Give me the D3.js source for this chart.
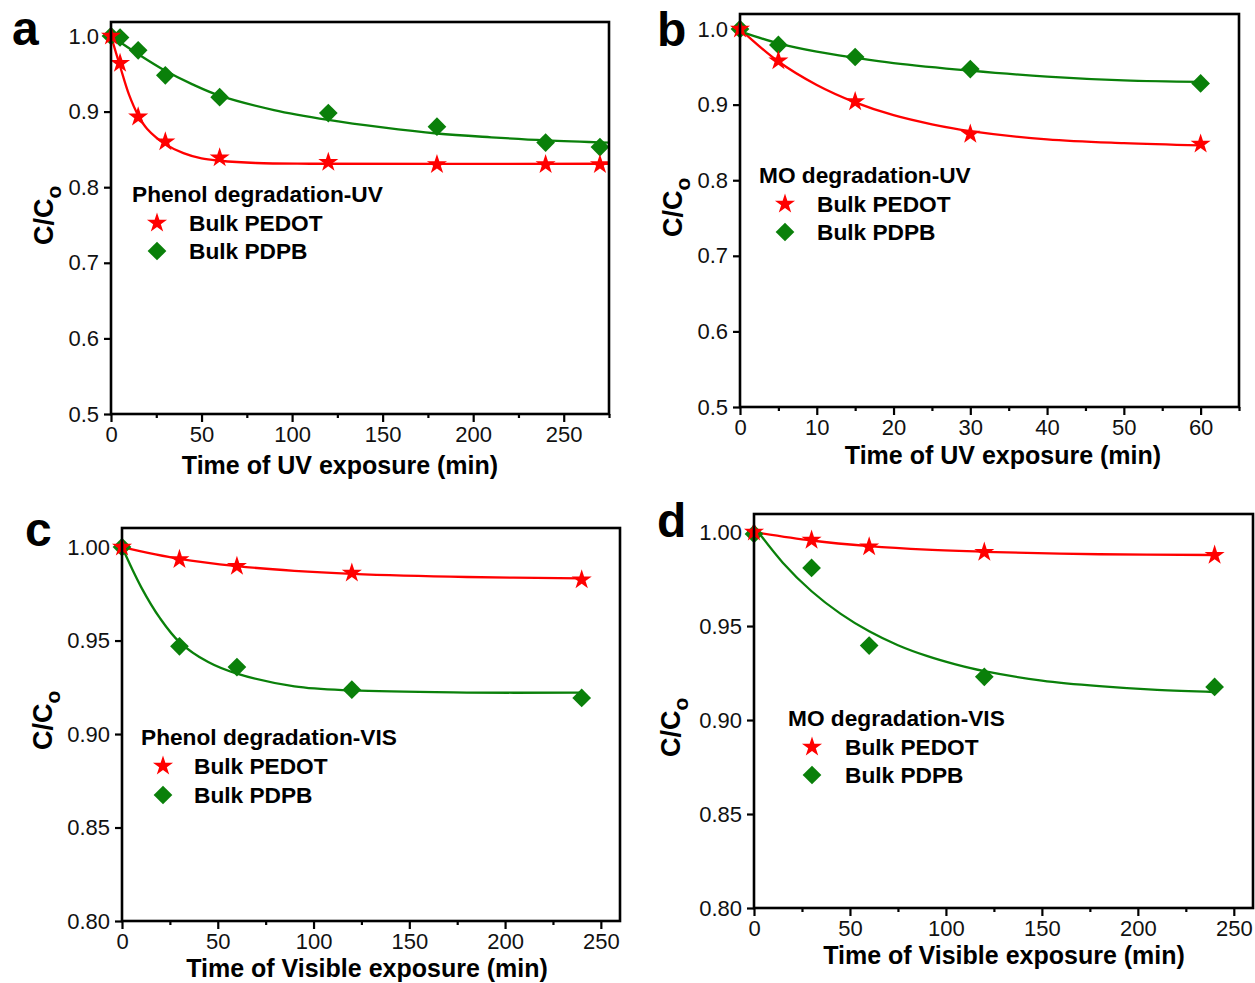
<!DOCTYPE html>
<html>
<head>
<meta charset="utf-8">
<script src="https://cdn.jsdelivr.net/npm/d3@7"></script>
<style>
  html, body { margin: 0; padding: 0; background: #fff; }
  svg { display: block; font-family: "Liberation Sans", Arial, sans-serif; }
</style>
</head>
<body>
<svg id="fig" width="1255" height="983"></svg>
<script>
// ---- Series names ----
const seriesNames = ["Bulk PEDOT", "Bulk PDPB"];

// ---- (a) Phenol degradation under UV ----
const timeA  = [0, 5, 15, 30, 60, 120, 180, 240, 270];
const pedotA = [1.000, 0.964, 0.893, 0.860, 0.839, 0.833, 0.830, 0.830, 0.830];
const pdpbA  = [1.000, 0.998, 0.981, 0.948, 0.919, 0.898, 0.880, 0.859, 0.853];
const fitPedotA = [[0,1.0],[5,0.960],[10,0.922],[15,0.895],[20,0.877],[30,0.857],[40,0.845],[50,0.838],[60,0.835],[80,0.832],[110,0.831],[275,0.831]];
const fitPdpbA  = [[0,1.0],[15,0.976],[30,0.954],[45,0.936],[60,0.921],[90,0.902],[120,0.889],[150,0.879],[180,0.871],[210,0.866],[240,0.862],[275,0.859]];

// ---- (b) MO degradation under UV ----
const timeB  = [0, 5, 15, 30, 60];
const pedotB = [1.000, 0.958, 0.904, 0.861, 0.848];
const pdpbB  = [1.000, 0.979, 0.963, 0.947, 0.928];
const fitPedotB = [[0,1.0],[5,0.957],[10,0.926],[15,0.903],[20,0.886],[25,0.874],[30,0.865],[40,0.854],[50,0.849],[60,0.846]];
const fitPdpbB  = [[0,0.997],[5,0.981],[10,0.970],[15,0.962],[20,0.955],[30,0.945],[40,0.937],[50,0.932],[60,0.930]];

// ---- (c) Phenol degradation under visible light ----
const timeC  = [0, 30, 60, 120, 240];
const pedotC = [1.000, 0.9934, 0.9897, 0.9861, 0.9825];
const pdpbC  = [1.000, 0.9469, 0.9358, 0.9237, 0.9193];
const fitPedotC = [[0,1.0],[30,0.9937],[60,0.9898],[90,0.9873],[120,0.9857],[180,0.9840],[240,0.9833]];
const fitPdpbC  = [[0,1.0],[10,0.9786],[20,0.9617],[30,0.9492],[45,0.9385],[60,0.9323],[90,0.9255],[120,0.9233],[180,0.9222],[240,0.9221]];

// ---- (d) MO degradation under visible light ----
const timeD  = [0, 30, 60, 120, 240];
const pedotD = [1.000, 0.9957, 0.9922, 0.9893, 0.9877];
const pdpbD  = [0.9990, 0.9809, 0.9396, 0.9230, 0.9176];
const fitPedotD = [[0,1.0],[30,0.9955],[60,0.9925],[90,0.9906],[120,0.9895],[180,0.9882],[240,0.9878]];
const fitPdpbD  = [[0,1.003],[15,0.9837],[30,0.9685],[45,0.9566],[60,0.9472],[75,0.9398],[90,0.9341],[105,0.9296],[120,0.926],[150,0.921],[180,0.918],[210,0.916],[240,0.9149]];

// ---- Axis ticks ----
const yTicksUV  = [0.5, 0.6, 0.7, 0.8, 0.9, 1.0];
const yTicksVIS = [0.80, 0.85, 0.90, 0.95, 1.00];
const xTicks250 = [0, 50, 100, 150, 200, 250];
const xMinor250 = [25, 75, 125, 175, 225, 275];
const xTicks60  = [0, 10, 20, 30, 40, 50, 60];
const xMinor60  = [5, 15, 25, 35, 45, 55, 65];

const titles = ["Phenol degradation-UV", "MO degradation-UV", "Phenol degradation-VIS", "MO degradation-VIS"];
const xTitles = ["Time of UV exposure (min)", "Time of UV exposure (min)", "Time of Visible exposure (min)", "Time of Visible exposure (min)"];
const letters = ["a", "b", "c", "d"];

const RED = "#ff0000";
const GREEN = "#0a800a";

// Panel geometry
const panels = [
  { letter: letters[0], title: titles[0], xTitle: xTitles[0],
    t: timeA, pedot: pedotA, pdpb: pdpbA, fitPedot: fitPedotA, fitPdpb: fitPdpbA,
    x0: 111, x1: 609, y0: 22, y1: 414, xDom: [0, 275], yDom: [0.5, 1.0185],
    xTicks: xTicks250, xMinor: xMinor250, yTicks: yTicksUV, yFmt: ".1f",
    letterPos: [12, 45], yLab: [53, 245], xLab: [340, 474],
    leg: { tx: 132, ty: 202, mx: 157, lx: 189, r1: 223, r2: 251 } },
  { letter: letters[1], title: titles[1], xTitle: xTitles[1],
    t: timeB, pedot: pedotB, pdpb: pdpbB, fitPedot: fitPedotB, fitPdpb: fitPdpbB,
    x0: 740, x1: 1239, y0: 14, y1: 407, xDom: [0, 65], yDom: [0.5, 1.0199],
    xTicks: xTicks60, xMinor: xMinor60, yTicks: yTicksUV, yFmt: ".1f",
    letterPos: [657, 46], yLab: [682, 237], xLab: [1003, 464],
    leg: { tx: 759, ty: 183, mx: 785, lx: 817, r1: 204, r2: 232 } },
  { letter: letters[2], title: titles[2], xTitle: xTitles[2],
    t: timeC, pedot: pedotC, pdpb: pdpbC, fitPedot: fitPedotC, fitPdpb: fitPdpbC,
    x0: 122, x1: 620, y0: 528, y1: 921, xDom: [0, 260], yDom: [0.8, 1.0102],
    xTicks: xTicks250, xMinor: xMinor250.slice(0, 5), yTicks: yTicksVIS, yFmt: ".2f",
    letterPos: [25, 546], yLab: [52, 750], xLab: [367, 977],
    leg: { tx: 141, ty: 745, mx: 163, lx: 194, r1: 766, r2: 795 } },
  { letter: letters[3], title: titles[3], xTitle: xTitles[3],
    t: timeD, pedot: pedotD, pdpb: pdpbD, fitPedot: fitPedotD, fitPdpb: fitPdpbD,
    x0: 754, x1: 1253, y0: 514, y1: 908, xDom: [0, 260], yDom: [0.8, 1.0096],
    xTicks: xTicks250, xMinor: xMinor250.slice(0, 5), yTicks: yTicksVIS, yFmt: ".2f",
    letterPos: [657, 537], yLab: [680, 757], xLab: [1004, 964],
    leg: { tx: 788, ty: 726, mx: 812, lx: 845, r1: 747, r2: 775 } }
];

const svg = d3.select("#fig");
const star = d3.symbol(d3.symbolStar, 125);
const diamond = d3.symbol(d3.symbolSquare, 175);

panels.forEach(p => {
  const g = svg.append("g");
  const x = d3.scaleLinear().domain(p.xDom).range([p.x0, p.x1]);
  const y = d3.scaleLinear().domain(p.yDom).range([p.y1, p.y0]);

  // Axes
  const xAxis = g.append("g").attr("transform", `translate(0,${p.y1})`)
    .call(d3.axisBottom(x).tickValues(p.xTicks).tickSize(8).tickPadding(4).tickFormat(d3.format("d")));
  const xMinorAxis = g.append("g").attr("transform", `translate(0,${p.y1})`)
    .call(d3.axisBottom(x).tickValues(p.xMinor).tickSize(4).tickFormat(""));
  const yAxis = g.append("g").attr("transform", `translate(${p.x0},0)`)
    .call(d3.axisLeft(y).tickValues(p.yTicks).tickSize(7).tickPadding(5).tickFormat(d3.format(p.yFmt)));
  [xAxis, xMinorAxis, yAxis].forEach(a => {
    a.select(".domain").remove();
    a.selectAll(".tick line").attr("stroke", "#000").attr("stroke-width", 2.2);
    a.selectAll(".tick text").attr("fill", "#111").style("font-size", "22px")
      .style("font-family", '"Liberation Sans", Arial, sans-serif');
  });

  // Fitted curves
  const line = d3.line().x(d => x(d[0])).y(d => y(d[1])).curve(d3.curveCatmullRom.alpha(0.5));
  g.append("path").datum(p.fitPedot).attr("d", line)
    .attr("fill", "none").attr("stroke", RED).attr("stroke-width", 2.3);
  g.append("path").datum(p.fitPdpb).attr("d", line)
    .attr("fill", "none").attr("stroke", GREEN).attr("stroke-width", 2.3);

  // Measured points
  g.selectAll(".pdpb").data(p.t.map((t, i) => [t, p.pdpb[i]])).join("path")
    .attr("class", "pdpb").attr("d", diamond)
    .attr("transform", d => `translate(${x(d[0])},${y(d[1])}) rotate(45)`)
    .attr("fill", GREEN);
  g.selectAll(".pedot").data(p.t.map((t, i) => [t, p.pedot[i]])).join("path")
    .attr("class", "pedot").attr("d", star)
    .attr("transform", d => `translate(${x(d[0])},${y(d[1])})`)
    .attr("fill", RED);

  // Frame
  g.append("rect").attr("x", p.x0).attr("y", p.y0)
    .attr("width", p.x1 - p.x0).attr("height", p.y1 - p.y0)
    .attr("fill", "none").attr("stroke", "#000").attr("stroke-width", 2.6);

  // Panel letter
  g.append("text").attr("x", p.letterPos[0]).attr("y", p.letterPos[1])
    .attr("font-size", 48).attr("font-weight", "bold").text(p.letter);

  // Axis titles
  g.append("text").attr("x", p.xLab[0]).attr("y", p.xLab[1])
    .attr("text-anchor", "middle").attr("font-size", 25).attr("font-weight", "bold")
    .text(p.xTitle);
  const yt = g.append("text")
    .attr("transform", `translate(${p.yLab[0]},${p.yLab[1]}) rotate(-90)`)
    .attr("font-size", 27).attr("font-weight", "bold");
  yt.append("tspan").text("C/C");
  yt.append("tspan").attr("dy", 8).attr("font-size", 21).text("o");

  // Legend
  const L = p.leg;
  g.append("text").attr("x", L.tx).attr("y", L.ty)
    .attr("font-size", 22.7).attr("font-weight", "bold").text(p.title);
  g.append("path").attr("d", star).attr("fill", RED)
    .attr("transform", `translate(${L.mx},${L.r1})`);
  g.append("path").attr("d", diamond).attr("fill", GREEN)
    .attr("transform", `translate(${L.mx},${L.r2}) rotate(45)`);
  g.append("text").attr("x", L.lx).attr("y", L.r1 + 8)
    .attr("font-size", 22.7).attr("font-weight", "bold").text(seriesNames[0]);
  g.append("text").attr("x", L.lx).attr("y", L.r2 + 8)
    .attr("font-size", 22.7).attr("font-weight", "bold").text(seriesNames[1]);
});
</script>
</body>
</html>
